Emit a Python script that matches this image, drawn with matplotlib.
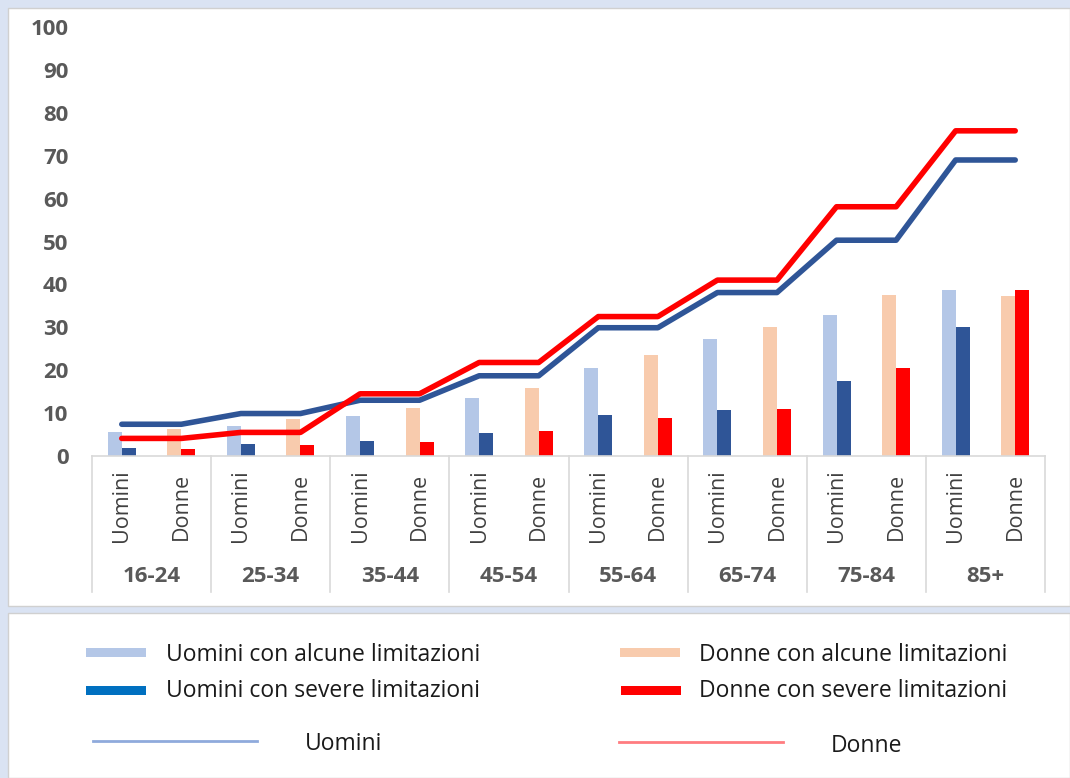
import matplotlib
matplotlib.use("Agg")
import matplotlib.pyplot as plt
import numpy as np
from matplotlib.patches import Rectangle
from matplotlib.lines import Line2D

age_groups = ["16-24", "25-34", "35-44", "45-54", "55-64", "65-74", "75-84", "85+"]
sexes = ["Uomini", "Donne"]

uomini_alcune = [5.5, 7.1, 9.4, 13.6, 20.6, 27.3, 32.8, 38.8]
uomini_severe = [1.8, 2.9, 3.5, 5.3, 9.6, 10.7, 17.5, 30.1]
donne_alcune = [6.4, 8.7, 11.3, 15.9, 23.5, 30.1, 37.5, 37.3]
donne_severe = [1.6, 2.5, 3.3, 5.8, 8.8, 11.0, 20.6, 38.6]
uomini_totale = [7.4, 9.9, 13.0, 18.7, 29.9, 38.1, 50.3, 69.0]
donne_totale = [4.1, 5.5, 14.5, 21.8, 32.5, 41.0, 58.1, 75.8]

yticks = [0, 10, 20, 30, 40, 50, 60, 70, 80, 90, 100]

C_LB = "#B4C7E7"
C_DB = "#2F5597"
C_PE = "#F8CBAD"
C_RD = "#FF0000"

W, H = 1070, 778
fig = plt.figure(figsize=(W / 100, H / 100), dpi=100)
fig.patch.set_facecolor("#DAE3F3")

def fx(px):
    return px / W

def fy(py):
    return 1 - py / H

# white panels
fig.patches.append(Rectangle((fx(8), fy(606)), fx(1070 - 8), (598) / H,
                             transform=fig.transFigure, facecolor="white",
                             edgecolor="#D0D0D0", linewidth=1, zorder=-10))
fig.patches.append(Rectangle((fx(8), fy(778)), fx(1070 - 8), (778 - 613) / H,
                             transform=fig.transFigure, facecolor="white",
                             edgecolor="#D0D0D0", linewidth=1, zorder=-10))

left, right, top, bottom = 92, 1045, 27, 456
ax = fig.add_axes([fx(left), fy(bottom), (right - left) / W, (bottom - top) / H])
ax.set_facecolor("none")

n = len(age_groups)
xu = np.arange(n) * 2
xd = xu + 1
bw = 0.235

ax.bar(xu - bw / 2, uomini_alcune, width=bw, color=C_LB, zorder=2)
ax.bar(xu + bw / 2, uomini_severe, width=bw, color=C_DB, zorder=2)
ax.bar(xd - bw / 2, donne_alcune, width=bw, color=C_PE, zorder=2)
ax.bar(xd + bw / 2, donne_severe, width=bw, color=C_RD, zorder=2)

xl = np.arange(2 * n)
u_line = np.repeat(uomini_totale, 2)
d_line = np.repeat(donne_totale, 2)
ax.plot(xl, u_line, color=C_DB, lw=4, solid_capstyle="round", solid_joinstyle="round", zorder=3)
ax.plot(xl, d_line, color=C_RD, lw=4, solid_capstyle="round", solid_joinstyle="round", zorder=4)

ax.set_xlim(-0.5, 2 * n - 0.5)
ax.set_ylim(0, 100)
ax.set_yticks(yticks)
ax.set_yticklabels([str(v) for v in yticks], fontsize=16, fontweight="bold",
                   color="#595959", family="Open Sans")
ax.tick_params(axis="y", length=0, pad=17)
ax.set_xticks([])
for s in ["left", "right", "top"]:
    ax.spines[s].set_visible(False)
ax.spines["bottom"].set_color("#D9D9D9")
ax.spines["bottom"].set_linewidth(1.2)

trans = ax.get_xaxis_transform()
axh = bottom - top
y_end = -(592 - bottom) / axh
for b in np.arange(n + 1) * 2 - 0.5:
    ax.plot([b, b], [0, y_end], transform=trans, color="#D9D9D9", lw=1.2, clip_on=False)

y_sub = -(506 - bottom) / axh
y_grp = -(576 - bottom) / axh
for i in range(n):
    ax.text(xu[i], y_sub, sexes[0], transform=trans, rotation=90, ha="center", va="center",
            fontsize=15.5, color="#404040", family="Open Sans")
    ax.text(xd[i], y_sub, sexes[1], transform=trans, rotation=90, ha="center", va="center",
            fontsize=15.5, color="#404040", family="Open Sans")
    ax.text(xu[i] + 0.5, y_grp, age_groups[i], transform=trans, ha="center", va="center",
            fontsize=16, fontweight="bold", color="#595959", family="Open Sans")

# legend (drawn manually)
leg_font = dict(fontsize=16.5, color="#1A1A1A", family="Open Sans", va="center", ha="left")
def patch(x0, x1, yc, h, color):
    fig.patches.append(Rectangle((fx(x0), fy(yc + h / 2)), (x1 - x0) / W, h / H,
                                 transform=fig.transFigure, facecolor=color, edgecolor="none"))

patch(86, 146, 652, 9, C_LB)
fig.text(fx(166), fy(655), "Uomini con alcune limitazioni", **leg_font)
patch(86, 146, 690, 9, "#0070C0")
fig.text(fx(166), fy(691), "Uomini con severe limitazioni", **leg_font)
patch(620, 680, 652, 9, C_PE)
fig.text(fx(699), fy(655), "Donne con alcune limitazioni", **leg_font)
patch(621, 681, 690, 9, C_RD)
fig.text(fx(699), fy(691), "Donne con severe limitazioni", **leg_font)

fig.lines.append(Line2D([fx(93), fx(257)], [fy(741), fy(741)], transform=fig.transFigure,
                        color="#8FAADC", lw=2))
fig.text(fx(305), fy(744), "Uomini", **leg_font)
fig.lines.append(Line2D([fx(619), fx(783)], [fy(742), fy(742)], transform=fig.transFigure,
                        color="#FF7C80", lw=2))
fig.text(fx(831), fy(746), "Donne", **leg_font)

fig.savefig("out.png", dpi=100, facecolor=fig.get_facecolor())
